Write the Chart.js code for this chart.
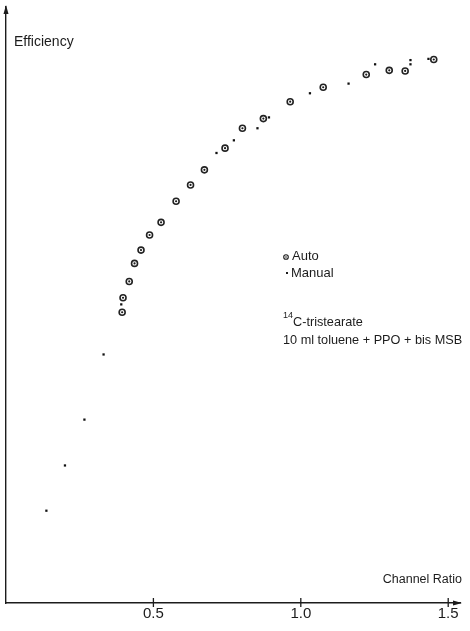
<!DOCTYPE html>
<html>
<head>
<meta charset="utf-8">
<script src="https://cdn.jsdelivr.net/npm/chart.js@4/dist/chart.umd.min.js"></script>
<style>
  html, body { margin: 0; padding: 0; background: #fff; }
  canvas { display: block; }
</style>
</head>
<body>
<canvas id="chart-efficiency" width="470" height="631"></canvas>
<script>
// channel ratio / efficiency
const autoRatio = [0.394, 0.397, 0.418, 0.436, 0.458, 0.487, 0.526, 0.577, 0.626, 0.673, 0.743, 0.802, 0.873, 0.964, 1.076, 1.222, 1.300, 1.354, 1.451];
const autoEff   = [48.2, 50.6, 53.3, 56.3, 58.5, 61.0, 63.1, 66.6, 69.3, 71.8, 75.4, 78.7, 80.3, 83.1, 85.5, 87.6, 88.3, 88.2, 90.1];

const manualRatio = [0.137, 0.200, 0.266, 0.331, 0.391, 0.531, 0.714, 0.773, 0.853, 0.892, 0.969, 1.031, 1.162, 1.252, 1.372, 1.372, 1.433];
const manualEff   = [15.3, 22.8, 30.4, 41.2, 49.5, 63.3, 74.6, 76.7, 78.7, 80.5, 83.3, 84.5, 86.1, 89.3, 89.3, 90.0, 90.2];

const xTicks = [0.5, 1.0, 1.5];
const seriesNames = ["Auto", "Manual"];

const INK = '#1c1c1c';
const FONT = '"Liberation Sans", Arial, Helvetica, sans-serif';

function toPoints(xs, ys) {
    return xs.map((x, i) => ({ x: x, y: ys[i] }));
}

// the printed "auto" marker has a dot in the middle of the ring
const centreDots = {
    id: 'centreDots',
    afterDatasetsDraw(chart) {
        const ctx = chart.ctx;
        const meta = chart.getDatasetMeta(0);
        ctx.save();
        ctx.fillStyle = INK;
        meta.data.forEach(pt => {
            ctx.beginPath();
            ctx.arc(pt.x, pt.y, 1.1, 0, Math.PI * 2);
            ctx.fill();
        });
        ctx.restore();
    }
};

// arrows, tick crosses and the printed labels
const axisDecor = {
    id: 'axisDecor',
    afterDraw(chart) {
        const ctx = chart.ctx;
        const a = chart.chartArea;
        const xs = chart.scales.x;
        ctx.save();
        ctx.strokeStyle = INK;
        ctx.fillStyle = INK;
        ctx.lineWidth = 1.3;

        // tick crosses
        xs.ticks.forEach(t => {
            const px = xs.getPixelForValue(t.value);
            ctx.beginPath();
            ctx.moveTo(px, a.bottom - 5);
            ctx.lineTo(px, a.bottom + 4);
            ctx.stroke();
        });

        // arrow heads
        ctx.beginPath();
        ctx.moveTo(a.left, a.top - 2);
        ctx.lineTo(a.left - 2.5, a.top + 7);
        ctx.lineTo(a.left + 2.5, a.top + 7);
        ctx.closePath();
        ctx.fill();
        ctx.beginPath();
        ctx.moveTo(a.right + 2, a.bottom);
        ctx.lineTo(a.right - 7, a.bottom - 2.5);
        ctx.lineTo(a.right - 7, a.bottom + 2.5);
        ctx.closePath();
        ctx.fill();

        ctx.textBaseline = 'middle';
        ctx.textAlign = 'left';
        ctx.font = '14px ' + FONT;
        ctx.fillText('Efficiency', 14, 42);
        ctx.textAlign = 'right';
        ctx.font = '12.5px ' + FONT;
        ctx.fillText('Channel Ratio', 462, 580);

        // legend
        ctx.textAlign = 'left';
        ctx.font = '13px ' + FONT;
        ctx.lineWidth = 1.1;
        ctx.beginPath();
        ctx.arc(286, 257, 2.3, 0, Math.PI * 2);
        ctx.stroke();
        ctx.beginPath();
        ctx.arc(286, 257, 0.8, 0, Math.PI * 2);
        ctx.fill();
        ctx.fillRect(286, 272, 2, 2);
        ctx.fillText(seriesNames[0], 292, 256);
        ctx.fillText(seriesNames[1], 291, 273);

        // sample note
        ctx.font = '9px ' + FONT;
        ctx.fillText('14', 283, 316);
        ctx.font = '12.7px ' + FONT;
        ctx.fillText('C-tristearate', 293, 322);
        ctx.fillText('10 ml toluene + PPO + bis MSB', 283, 340);
        ctx.restore();
    }
};

window.charts = window.charts || {};
window.charts['chart-efficiency'] = new Chart(document.getElementById('chart-efficiency'), {
    type: 'scatter',
    data: {
        datasets: [{
            label: seriesNames[0],
            data: toPoints(autoRatio, autoEff),
            pointStyle: 'circle',
            pointRadius: 3,
            borderWidth: 1.6,
            borderColor: '#222',
            backgroundColor: '#fff'
        },
        {
            label: seriesNames[1],
            data: toPoints(manualRatio, manualEff),
            pointStyle: 'rect',
            pointRadius: 1.6,
            backgroundColor: '#111',
            borderWidth: 0
        }]
    },
    options: {
        responsive: false,
        animation: false,
        layout: {
            padding: { left: 6, right: 10, top: 7, bottom: 6 }
        },
        scales: {
            x: {
                type: 'linear',
                min: 0,
                max: 1.54,
                afterBuildTicks: s => { s.ticks = xTicks.map(v => ({ value: v })); },
                grid: { display: false, drawTicks: false },
                border: { display: true, color: INK, width: 1.4 },
                ticks: {
                    color: INK,
                    padding: 2,
                    font: { family: FONT, size: 15 },
                    callback: v => v.toFixed(1)
                }
            },
            y: {
                type: 'linear',
                min: 0,
                max: 98.8,
                grid: { display: false, drawTicks: false },
                border: { display: true, color: INK, width: 1.4 },
                ticks: { display: false }
            }
        },
        plugins: {
            legend: { display: false },
            tooltip: { enabled: false }
        }
    },
    plugins: [centreDots, axisDecor]
});
</script>
</body>
</html>
